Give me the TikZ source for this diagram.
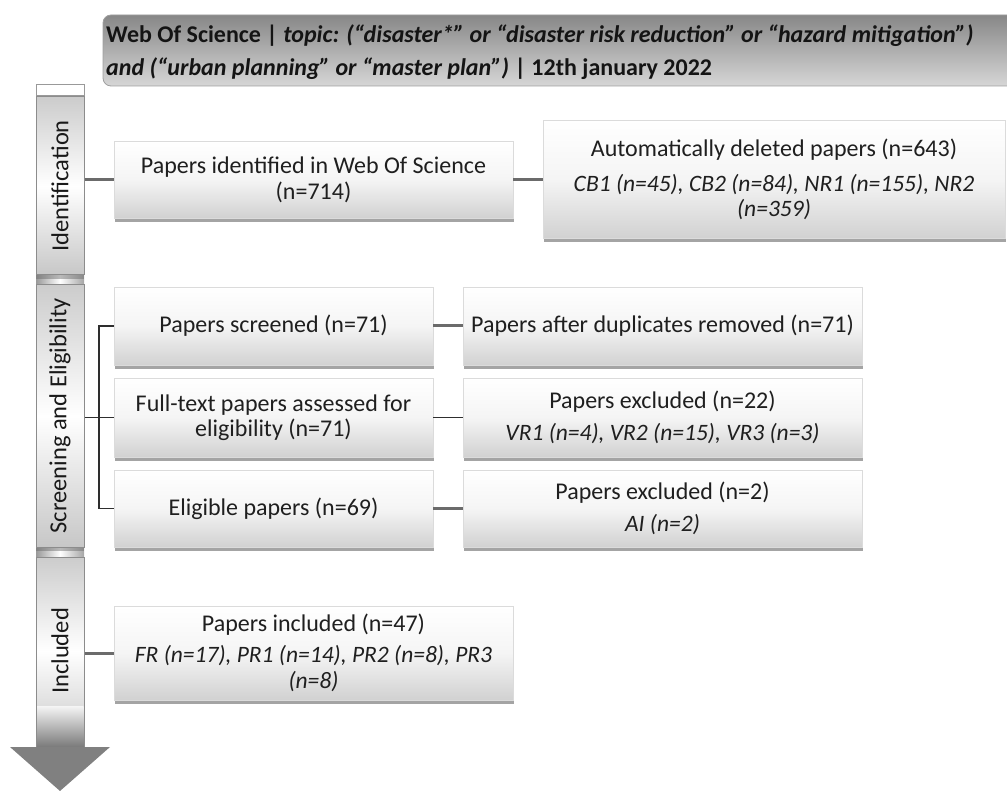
\documentclass[tikz,border=0pt]{standalone}
\usepackage{fontspec}
\setmainfont{Carlito}
\usetikzlibrary{shadows}
\newcommand{\itl}[1]{{\fontsize{23.5}{26}\selectfont\itshape #1}}
\begin{document}
\begin{tikzpicture}[x=1pt,y=-1pt,
  box/.style={rectangle, draw=black!14, line width=0.6pt,
    top color=white, bottom color=black!18, middle color=white!96!black,
    align=center, text=black!88, inner sep=3pt,
    font=\fontsize{24}{26}\selectfont,
    drop shadow={shadow xshift=0.5pt, shadow yshift=-4pt, opacity=0.55, fill=black!65}},
  seg/.style={rectangle, rotate=90, draw=black!45, line width=1pt,
    top color=black!20, bottom color=black!22, middle color=white,
    text=black!90, inner sep=0pt, minimum height=48pt,
    font=\fontsize{24.5}{26}\selectfont,
    drop shadow={shadow xshift=0pt, shadow yshift=-4pt, opacity=0.45, fill=black!60}},
  conn/.style={draw=black!58, line width=3pt},
  thinconn/.style={draw=black!82, line width=1.7pt},
]
\useasboundingbox (0,0) rectangle (1007,791);

% header band
\shadedraw[top color=black!47, bottom color=black!16, draw=black!38, line width=0.8pt, rounded corners=8pt]
  (1007,86) -- (103,86) -- (103,15) -- (1007,15);
\node[anchor=west, align=left, inner sep=0pt, text=black!92,
  font=\bfseries\fontsize{24}{33}\selectfont] (header) at (106,52)
  {Web Of Science | \textit{topic: (“disaster*” or “disaster risk reduction” or “hazard mitigation”)}\\
   \textit{and (“urban planning” or “master plan”)} | 12th january 2022};

% vertical phase column
\fill[left color=black!40, right color=black!35, middle color=white] (36,85) rectangle (84,745);
\draw[black!40, line width=1pt, fill=white] (36,85) rectangle (84,96);
\node[seg, minimum width=178pt] (segI) at (60,186) {Identification};
\node[seg, minimum width=262pt] (segS) at (60,416) {Screening and Eligibility};
\node[seg, minimum width=188pt] (segN) at (60,651) {Included};
\shade[top color=white!96!black, bottom color=black!52] (36.5,706) rectangle (83.5,747);
\draw[black!45, line width=1pt] (36,706) -- (36,747) (84,706) -- (84,747);
\fill[black!50] (10,747) -- (110,747) -- (60,791) -- cycle;

% identification
\node[box, minimum width=399pt, minimum height=77pt] (ident) at (313.5,179.5)
  {Papers identified in Web Of Science\\(n=714)};
\node[box, minimum width=462pt, minimum height=118pt, font=\fontsize{24}{25}\selectfont] (auto) at (774,179)
  {Automatically deleted papers (n=643)\\[10pt]
   \itl{CB1 (n=45), CB2 (n=84), NR1 (n=155), NR2}\\\itl{(n=359)}};

% screening and eligibility
\node[box, minimum width=319pt, minimum height=78pt] (scr) at (273.5,326) {Papers screened (n=71)};
\node[box, minimum width=319pt, minimum height=79pt, font=\fontsize{24}{24.5}\selectfont] (full) at (273.5,417.5)
  {Full-text papers assessed for\\eligibility (n=71)};
\node[box, minimum width=319pt, minimum height=77pt] (elig) at (273.5,508.5) {Eligible papers (n=69)};
\node[box, minimum width=399pt, minimum height=78pt] (dup) at (662.5,326)
  {Papers after duplicates removed (n=71)};
\node[box, minimum width=399pt, minimum height=79pt] (exa) at (662.5,417.5)
  {Papers excluded (n=22)\\[6pt]\itl{VR1 (n=4), VR2 (n=15), VR3 (n=3)}};
\node[box, minimum width=399pt, minimum height=77pt] (exb) at (662.5,508.5)
  {Papers excluded (n=2)\\[6pt]\itl{AI (n=2)}};

% included
\node[box, minimum width=399pt, minimum height=94pt] (incl) at (313.5,653)
  {Papers included (n=47)\\[5pt]\itl{FR (n=17), PR1 (n=14), PR2 (n=8), PR3}\\\itl{(n=8)}};

% connectors
\draw[conn] (ident.west -| segI.south) -- (ident.west);
\draw[conn] (ident.east) -- (ident.east -| auto.west);
\draw[thinconn] (full.west -| segS.south) -- (full.west);
\draw[thinconn] (scr.west) -- ++(-15,0) |- (elig.west);
\draw[conn] (scr.east) -- (dup.west);
\draw[thinconn] (full.east) -- (exa.west);
\draw[conn] (elig.east) -- (exb.west);
\draw[conn] (incl.west -| segN.south) -- (incl.west);
\end{tikzpicture}
\end{document}
